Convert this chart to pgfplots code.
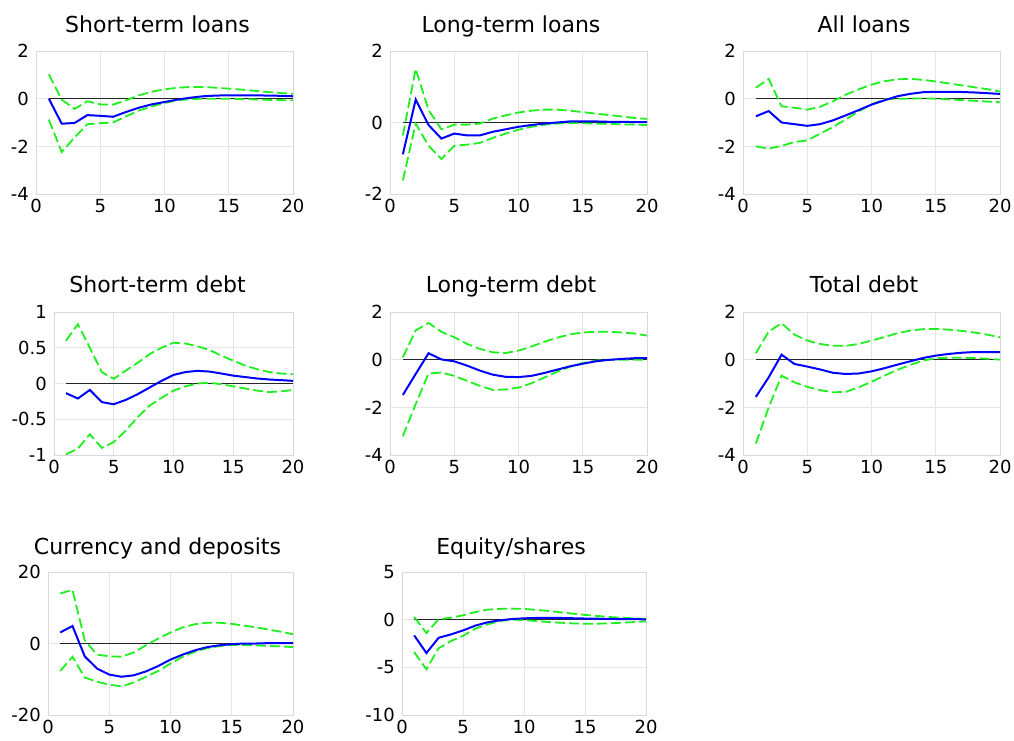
\documentclass[border=0pt]{standalone}
\usepackage{pgfplots}
\pgfplotsset{compat=1.18}
\usepackage{pgfplotstable}
\usepackage{fontspec}
\setmainfont{DejaVu Sans}

\definecolor{irfblue}{RGB}{0,0,255}
\definecolor{irfgreen}{RGB}{30,240,30}

% columns: horizon, point estimate, upper band, lower band
\pgfplotstableread{
x b u l
1 0 1.02 -0.88
2 -1.05 -0.04 -2.24
3 -1.02 -0.43 -1.63
4 -0.69 -0.11 -1.07
5 -0.72 -0.24 -1.03
6 -0.76 -0.25 -1.00
7 -0.56 -0.07 -0.74
8 -0.38 0.14 -0.50
9 -0.24 0.29 -0.33
10 -0.14 0.39 -0.18
11 -0.04 0.46 -0.07
12 0.04 0.49 -0.02
13 0.10 0.49 0.00
14 0.13 0.46 0.00
15 0.14 0.42 0.00
16 0.14 0.38 -0.02
17 0.14 0.33 -0.03
18 0.13 0.28 -0.05
19 0.12 0.24 -0.06
20 0.10 0.20 -0.07
}\tStl
\pgfplotstableread{
x b u l
1 -0.89 -0.36 -1.62
2 0.64 1.50 -0.03
3 -0.07 0.35 -0.65
4 -0.45 -0.19 -1.02
5 -0.31 -0.06 -0.65
6 -0.36 -0.06 -0.62
7 -0.36 -0.03 -0.57
8 -0.26 0.11 -0.43
9 -0.19 0.20 -0.31
10 -0.12 0.28 -0.20
11 -0.07 0.33 -0.12
12 -0.03 0.36 -0.06
13 0.00 0.36 -0.03
14 0.03 0.33 -0.01
15 0.03 0.29 -0.02
16 0.03 0.25 -0.03
17 0.02 0.21 -0.04
18 0.02 0.17 -0.05
19 0.01 0.13 -0.06
20 0.01 0.10 -0.07
}\tLtl
\pgfplotstableread{
x b u l
1 -0.74 0.46 -2.00
2 -0.52 0.83 -2.10
3 -1.00 -0.32 -1.98
4 -1.07 -0.38 -1.82
5 -1.14 -0.46 -1.75
6 -1.07 -0.34 -1.47
7 -0.91 -0.11 -1.19
8 -0.70 0.17 -0.87
9 -0.48 0.39 -0.53
10 -0.25 0.59 -0.24
11 -0.07 0.73 -0.03
12 0.10 0.81 0.00
13 0.20 0.83 0.00
14 0.27 0.79 0.01
15 0.29 0.72 0.00
16 0.29 0.64 -0.03
17 0.28 0.56 -0.06
18 0.26 0.48 -0.09
19 0.23 0.40 -0.12
20 0.20 0.30 -0.15
}\tAll
\pgfplotstableread{
x b u l
1 -0.135 0.60 -0.99
2 -0.21 0.83 -0.91
3 -0.09 0.50 -0.71
4 -0.26 0.16 -0.90
5 -0.29 0.065 -0.82
6 -0.23 0.18 -0.66
7 -0.15 0.29 -0.47
8 -0.056 0.41 -0.31
9 0.037 0.50 -0.20
10 0.12 0.57 -0.10
11 0.16 0.56 -0.04
12 0.177 0.52 0.00
13 0.167 0.47 0.01
14 0.14 0.39 -0.01
15 0.11 0.32 -0.04
16 0.09 0.25 -0.07
17 0.07 0.20 -0.10
18 0.056 0.16 -0.12
19 0.047 0.14 -0.11
20 0.037 0.13 -0.09
}\tStd
\pgfplotstableread{
x b u l
1 -1.48 0.10 -3.21
2 -0.60 1.23 -1.86
3 0.27 1.54 -0.58
4 0.01 1.17 -0.54
5 -0.07 0.94 -0.68
6 -0.25 0.66 -0.89
7 -0.46 0.45 -1.10
8 -0.63 0.31 -1.27
9 -0.72 0.28 -1.25
10 -0.73 0.38 -1.17
11 -0.68 0.55 -0.99
12 -0.56 0.75 -0.75
13 -0.42 0.92 -0.51
14 -0.28 1.06 -0.30
15 -0.17 1.14 -0.14
16 -0.07 1.17 -0.04
17 -0.01 1.17 0.00
18 0.03 1.14 0.00
19 0.06 1.10 0.00
20 0.07 1.01 -0.01
}\tLtd
\pgfplotstableread{
x b u l
1 -1.56 0.27 -3.52
2 -0.74 1.18 -2.00
3 0.21 1.53 -0.67
4 -0.18 1.05 -0.95
5 -0.29 0.80 -1.14
6 -0.41 0.66 -1.28
7 -0.55 0.58 -1.37
8 -0.60 0.58 -1.35
9 -0.58 0.66 -1.16
10 -0.49 0.80 -0.93
11 -0.36 0.95 -0.67
12 -0.21 1.11 -0.43
13 -0.07 1.22 -0.22
14 0.07 1.28 -0.04
15 0.17 1.29 0.06
16 0.24 1.26 0.08
17 0.29 1.21 0.08
18 0.32 1.14 0.07
19 0.32 1.05 0.04
20 0.32 0.94 0.00
}\tTot
\pgfplotstableread{
x b u l
1 3.1 14.0 -7.7
2 4.9 15.0 -3.7
3 -3.6 0.9 -9.5
4 -7.0 -3.1 -10.7
5 -8.7 -3.6 -11.5
6 -9.3 -3.7 -12.0
7 -8.9 -2.5 -10.9
8 -7.8 -0.5 -9.3
9 -6.3 1.4 -7.7
10 -4.5 3.1 -5.6
11 -3.1 4.5 -3.7
12 -1.9 5.4 -2.3
13 -1.0 5.8 -1.3
14 -0.5 5.8 -0.7
15 -0.2 5.5 -0.4
16 0.0 5.0 -0.4
17 0.0 4.5 -0.5
18 0.1 3.9 -0.7
19 0.1 3.3 -0.8
20 0.1 2.6 -1.0
}\tCur
\pgfplotstableread{
x b u l
1 -1.65 0.28 -3.40
2 -3.50 -1.40 -5.20
3 -1.90 0.04 -3.00
4 -1.55 0.20 -2.25
5 -1.13 0.46 -1.70
6 -0.63 0.80 -0.95
7 -0.28 1.05 -0.50
8 -0.07 1.13 -0.14
9 0.07 1.16 0.00
10 0.14 1.13 -0.04
11 0.18 1.02 -0.14
12 0.18 0.92 -0.25
13 0.18 0.77 -0.32
14 0.15 0.63 -0.39
15 0.12 0.50 -0.42
16 0.10 0.39 -0.42
17 0.08 0.28 -0.39
18 0.06 0.20 -0.32
19 0.05 0.14 -0.25
20 0.04 0.07 -0.18
}\tEq

\pgfplotsset{
  irf/.style={
    scale only axis, height=143pt, anchor=south west,
    xmin=0, xmax=20,
    xtick={0,5,10,15,20}, xticklabels={0,5,10,15,20},
    grid=major, grid style={draw=gray!20, line width=0.8pt},
    axis line style={draw=gray!30, line width=0.8pt},
    major tick length=0pt, tick style={draw=none},
    ticklabel style={font=\fontsize{18}{18}\selectfont, inner sep=0pt},
    yticklabel style={xshift=-7pt},
    xticklabel style={yshift=-5pt},
  },
  zero/.style={black!85, line width=0.7pt},
  band/.style={irfgreen, line width=1.8pt, dash pattern=on 10pt off 4pt},
  est/.style={irfblue, line width=2pt},
}

\newcommand{\irfcurves}[1]{%
  \addplot[zero] coordinates {(1,0) (20,0)};
  \addplot[band] table[x=x,y=u]{#1};
  \addplot[band] table[x=x,y=l]{#1};
  \addplot[est] table[x=x,y=b]{#1};
}

\begin{document}
\begin{tikzpicture}
\useasboundingbox (0,0) rectangle (1014pt,740pt);

\begin{axis}[irf, at={(36pt,546pt)}, width=257pt,
  ymin=-4, ymax=2, ytick={-4,-2,0,2}, yticklabels={-4,-2,0,2}]
\irfcurves{\tStl}
\end{axis}
\begin{axis}[irf, at={(390pt,546pt)}, width=257pt,
  ymin=-2, ymax=2, ytick={-2,0,2}, yticklabels={-2,0,2}]
\irfcurves{\tLtl}
\end{axis}
\begin{axis}[irf, at={(743pt,546pt)}, width=257pt,
  ymin=-4, ymax=2, ytick={-4,-2,0,2}, yticklabels={-4,-2,0,2}]
\irfcurves{\tAll}
\end{axis}

\begin{axis}[irf, at={(54pt,285pt)}, width=239pt,
  ymin=-1, ymax=1, ytick={-1,-0.5,0,0.5,1}, yticklabels={-1,-0.5,0,0.5,1}]
\irfcurves{\tStd}
\end{axis}
\begin{axis}[irf, at={(390pt,285pt)}, width=257pt,
  ymin=-4, ymax=2, ytick={-4,-2,0,2}, yticklabels={-4,-2,0,2}]
\irfcurves{\tLtd}
\end{axis}
\begin{axis}[irf, at={(743pt,285pt)}, width=257pt,
  ymin=-4, ymax=2, ytick={-4,-2,0,2}, yticklabels={-4,-2,0,2}]
\irfcurves{\tTot}
\end{axis}

\begin{axis}[irf, at={(48pt,25pt)}, width=245pt,
  ymin=-20, ymax=20, ytick={-20,0,20}, yticklabels={-20,0,20}]
\irfcurves{\tCur}
\end{axis}
\begin{axis}[irf, at={(402pt,25pt)}, width=244pt,
  ymin=-10, ymax=5, ytick={-10,-5,0,5}, yticklabels={-10,-5,0,5}]
\irfcurves{\tEq}
\end{axis}

\begin{scope}[every node/.style={anchor=base, inner sep=0pt, font=\fontsize{22}{22}\selectfont}]
\node at (157.5pt,707pt) {Short-term loans};
\node at (511pt,707pt) {Long-term loans};
\node at (864pt,707pt) {All loans};
\node at (157.5pt,447pt) {Short-term debt};
\node at (511pt,447pt) {Long-term debt};
\node at (864pt,447pt) {Total debt};
\node at (157.5pt,186pt) {Currency and deposits};
\node at (511pt,186pt) {Equity/shares};
\end{scope}
\end{tikzpicture}
\end{document}
